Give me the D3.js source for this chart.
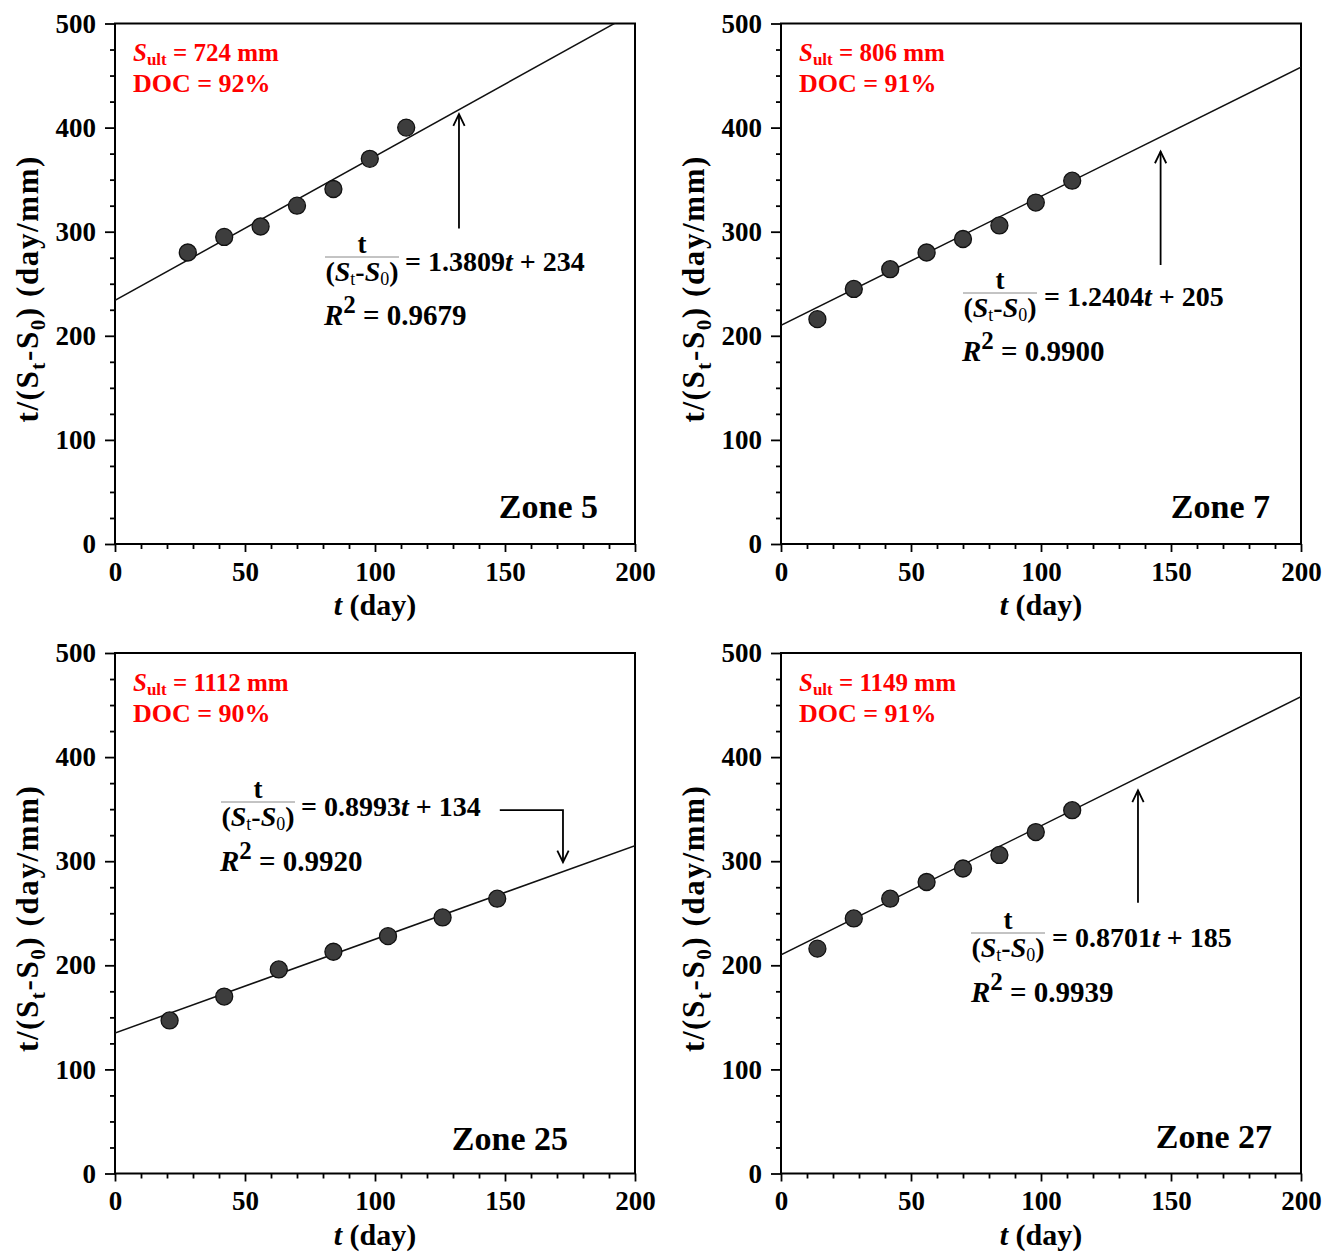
<!DOCTYPE html>
<html>
<head>
<meta charset="utf-8">
<script src="https://cdn.jsdelivr.net/npm/d3@7/dist/d3.min.js"></script>
<style>
  html, body { margin: 0; padding: 0; background: #fff; }
  svg { display: block; }
  text { font-family: "Liberation Serif", "Times New Roman", serif; font-weight: bold; }
</style>
</head>
<body>
<svg id="chart" width="1338" height="1252"></svg>
<script>
// Values (t in days, y = t/(St-S0) in day/mm).
const zone5T = [28, 42, 56, 70, 84, 98, 112];
const zone5Y = [280, 295, 305, 325, 341, 370, 400];
const zone7T = [14, 28, 42, 56, 70, 84, 98, 112];
const zone7Y = [216, 245, 264, 280, 293, 306, 328, 349];
const zone25T = [21, 42, 63, 84, 105, 126, 147];
const zone25Y = [147, 170, 196, 213, 228, 246, 264];
const zone27T = [14, 28, 42, 56, 70, 84, 98, 112];
const zone27Y = [216, 245, 264, 280, 293, 306, 328, 349];

// drawn fit lines as they appear in the picture: [intercept, slope]
const zone5Fit = [234, 1.385];
const zone7Fit = [210, 1.24];
const zone25Fit = [135, 0.9];
const zone27Fit = [210, 1.24];

const zoneNames = ["Zone 5", "Zone 7", "Zone 25", "Zone 27"];
const sultLabels = ["724", "806", "1112", "1149"];
const docLabels = ["92%", "91%", "90%", "91%"];
const eqSlopes = ["1.3809", "1.2404", "0.8993", "0.8701"];
const eqIntercepts = ["234", "205", "134", "185"];
const r2Labels = ["0.9679", "0.9900", "0.9920", "0.9939"];

const xMajorTicks = [0, 50, 100, 150, 200];
const yMajorTicks = [0, 100, 200, 300, 400, 500];
const xMinorTicks = d3.range(0, 201, 10).filter(v => v % 50 !== 0);
const yMinorTicks = d3.range(0, 501, 25).filter(v => v % 100 !== 0);

const svg = d3.select("#chart");
const PW = 520, PH = 520.5;
const RED = "#ff0000";

// layout per panel (pixels relative to plot origin), arrows in data units
const panels = [
  { left: 115, top: 23.5, t: zone5T, y: zone5Y, fit: zone5Fit,
    frac: [247, 233.5], eq: [290, 247], r2: [209, 301.5], zone: [483, 494.5],
    arrow: [[132.3, 303], [132.3, 413]] },
  { left: 781, top: 23.5, t: zone7T, y: zone7Y, fit: zone7Fit,
    frac: [219, 269.5], eq: [263, 282.5], r2: [181, 337.5], zone: [489, 494.5],
    arrow: [[146, 268], [146, 377]] },
  { left: 115, top: 653, t: zone25T, y: zone25Y, fit: zone25Fit,
    frac: [143, 149], eq: [186, 163], r2: [105, 218], zone: [453, 497],
    arrow: [[148, 349], [172.3, 349], [172.3, 299]] },
  { left: 781, top: 653, t: zone27T, y: zone27Y, fit: zone27Fit,
    frac: [227, 280], eq: [271, 294], r2: [190, 349], zone: [491, 495],
    arrow: [[137.3, 260], [137.3, 368]] }
];

function addRich(g, x, y, parts, size, anchor) {
  const txt = g.append("text").attr("x", x).attr("y", y)
    .attr("font-size", size).attr("text-anchor", anchor || "start");
  let shift = 0;
  parts.forEach(p => {
    const sp = txt.append("tspan").text(p.t);
    let want = 0;
    if (p.sub) want = p.sub;
    if (p.sup) want = -p.sup;
    if (want !== shift) { sp.attr("dy", want - shift); shift = want; }
    if (p.italic) sp.attr("font-style", "italic");
    if (p.size) sp.attr("font-size", p.size);
    if (p.normal) sp.attr("font-weight", "normal");
    if (p.fill) sp.attr("fill", p.fill);
  });
  return txt;
}

function drawPanel(p, i) {
  const x = d3.scaleLinear().domain([0, 200]).range([0, PW]);
  const y = d3.scaleLinear().domain([0, 500]).range([PH, 0]);
  const g = svg.append("g").attr("transform", `translate(${p.left},${p.top})`);

  // minor ticks
  g.append("g").attr("transform", `translate(0,${PH})`)
    .call(d3.axisBottom(x).tickValues(xMinorTicks).tickSize(5).tickFormat(""))
    .call(a => a.select(".domain").remove());
  g.append("g")
    .call(d3.axisLeft(y).tickValues(yMinorTicks).tickSize(5).tickFormat(""))
    .call(a => a.select(".domain").remove());

  // major ticks + labels
  const xa = g.append("g").attr("transform", `translate(0,${PH})`)
    .call(d3.axisBottom(x).tickValues(xMajorTicks).tickSize(8).tickSizeOuter(0).tickPadding(6));
  const ya = g.append("g")
    .call(d3.axisLeft(y).tickValues(yMajorTicks).tickSize(10).tickSizeOuter(0).tickPadding(9));
  [xa, ya].forEach(a => {
    a.selectAll("text").attr("font-size", 27).attr("fill", "#000")
      .attr("font-family", '"Liberation Serif", "Times New Roman", serif');
    a.select(".domain").remove();
  });
  xa.selectAll("text").attr("dy", "0.85em");
  g.selectAll(".tick line").attr("stroke", "#000").attr("stroke-width", 1.8);

  // frame
  g.append("rect").attr("width", PW).attr("height", PH)
    .attr("fill", "none").attr("stroke", "#000").attr("stroke-width", 2);

  // fit line, clipped to plot box
  const clipId = `clip${i}`;
  g.append("clipPath").attr("id", clipId).append("rect").attr("width", PW).attr("height", PH);
  const [b0, b1] = p.fit;
  g.append("line").attr("clip-path", `url(#${clipId})`)
    .attr("x1", x(0)).attr("y1", y(b0))
    .attr("x2", x(200)).attr("y2", y(b0 + b1 * 200))
    .attr("stroke", "#111").attr("stroke-width", 1.5);

  // points
  g.selectAll("circle.pt").data(p.t.map((t, k) => [t, p.y[k]])).join("circle")
    .attr("class", "pt")
    .attr("cx", d => x(d[0])).attr("cy", d => y(d[1])).attr("r", 8.5)
    .attr("fill", "#3d3d3d").attr("stroke", "#111").attr("stroke-width", 1.3);

  // arrow
  const pts = p.arrow.map(d => [x(d[0]), y(d[1])]);
  g.append("path").attr("d", d3.line()(pts))
    .attr("fill", "none").attr("stroke", "#000").attr("stroke-width", 1.8);
  const tip = pts[pts.length - 1], prev = pts[pts.length - 2];
  const ang = Math.atan2(tip[1] - prev[1], tip[0] - prev[0]);
  const hl = 13, hw = 0.45;
  const head = [
    [tip[0] - hl * Math.cos(ang - hw), tip[1] - hl * Math.sin(ang - hw)],
    tip,
    [tip[0] - hl * Math.cos(ang + hw), tip[1] - hl * Math.sin(ang + hw)]
  ];
  g.append("path").attr("d", d3.line()(head))
    .attr("fill", "none").attr("stroke", "#000").attr("stroke-width", 1.8);

  // red Sult / DOC
  addRich(g, 18, 37.5, [
    { t: "S", italic: true, fill: RED },
    { t: "ult", sub: 4, size: 17, fill: RED },
    { t: " = " + sultLabels[i] + " mm", fill: RED }
  ], 25);
  g.append("text").attr("x", 18).attr("y", 68.5).attr("font-size", 26)
    .attr("fill", RED).text("DOC = " + docLabels[i]);

  // equation
  const [fx, fy] = p.frac;
  g.append("line").attr("x1", fx - 37).attr("x2", fx + 37).attr("y1", fy).attr("y2", fy)
    .attr("stroke", "#888").attr("stroke-width", 1);
  g.append("text").attr("x", fx).attr("y", fy - 4).attr("font-size", 27)
    .attr("text-anchor", "middle").text("t");
  addRich(g, fx, fy + 24, [
    { t: "(" },
    { t: "S", italic: true },
    { t: "t", sub: 4, size: 18, normal: true },
    { t: "-" },
    { t: "S", italic: true },
    { t: "0", sub: 4, size: 18, normal: true },
    { t: ")" }
  ], 28, "middle");
  addRich(g, p.eq[0], p.eq[1], [
    { t: "= " + eqSlopes[i] },
    { t: "t", italic: true },
    { t: " + " + eqIntercepts[i] }
  ], 28);
  addRich(g, p.r2[0], p.r2[1], [
    { t: "R", italic: true },
    { t: "2", sup: 12, size: 25 },
    { t: " = " + r2Labels[i] }
  ], 29);

  // zone label
  g.append("text").attr("x", p.zone[0]).attr("y", p.zone[1]).attr("font-size", 34)
    .attr("text-anchor", "end").text(zoneNames[i]);

  // axis titles
  addRich(g, PW / 2, PH + 71, [
    { t: "t", italic: true },
    { t: " (day)" }
  ], 30, "middle");
  const yt = addRich(g, 0, 0, [
    { t: "t/(S" },
    { t: "t", sub: 7, size: 21 },
    { t: "-S" },
    { t: "0", sub: 7, size: 21 },
    { t: ") (day/mm)" }
  ], 31, "middle");
  yt.attr("letter-spacing", 1.6)
    .attr("transform", `translate(-77,${PH / 2 + 5}) rotate(-90)`);
}

panels.forEach(drawPanel);
</script>
</body>
</html>
